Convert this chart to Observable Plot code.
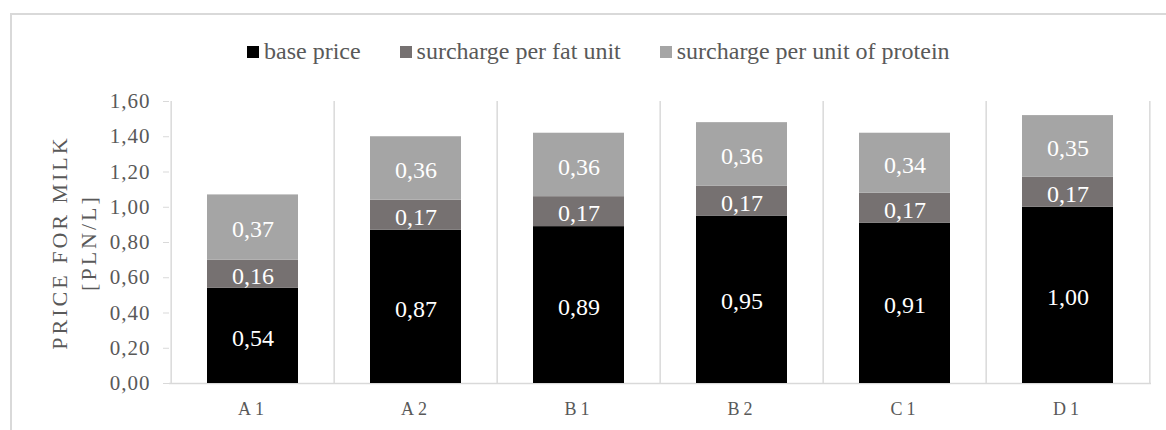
<!DOCTYPE html>
<html>
<head>
<meta charset="utf-8">
<script src="https://cdn.jsdelivr.net/npm/d3@7"></script>
<script src="https://cdn.jsdelivr.net/npm/@observablehq/plot@0.6"></script>
<style>
  html, body { margin: 0; padding: 0; background: #fff; }
  #wrap { position: relative; width: 1166px; height: 430px; overflow: hidden; font-family: "Liberation Serif", "Times New Roman", Tinos, "DejaVu Serif", serif; }
  #frame { position: absolute; left: 10px; top: 13px; width: 1300px; height: 600px; border: 2px solid #D9D9D9; box-sizing: border-box; }
  #legend { position: relative; height: 80px; }
  #legend .items { position: absolute; left: 247px; top: 37px; height: 28px; display: flex; align-items: center; gap: 39px; color: #595959; font-size: 24px; white-space: nowrap; }
  #legend .item { display: flex; align-items: center; }
  #legend .sw { width: 12px; height: 12px; margin-right: 5px; margin-top: 2px; }
  #chart { position: relative; }
  #chart svg, #chart svg text { font-family: "Liberation Serif", "Times New Roman", Tinos, "DejaVu Serif", serif; }
</style>
</head>
<body>
<div id="wrap">
  <div id="frame"></div>
  <div id="legend"></div>
  <div id="chart"></div>
</div>
<script>
const categories = ["A1", "A2", "B1", "B2", "C1", "D1"];
const basePrice = [0.54, 0.87, 0.89, 0.95, 0.91, 1.00];
const fatSurcharge = [0.16, 0.17, 0.17, 0.17, 0.17, 0.17];
const proteinSurcharge = [0.37, 0.36, 0.36, 0.36, 0.34, 0.35];
const seriesNames = ["base price", "surcharge per fat unit", "surcharge per unit of protein"];
const seriesColors = ["#000000", "#767171", "#A5A5A5"];
const yTicks = [0, 0.2, 0.4, 0.6, 0.8, 1.0, 1.2, 1.4, 1.6];
const yTitle = "PRICE FOR MILK\n[PLN/L]";

const seriesValues = [basePrice, fatSurcharge, proteinSurcharge];
const data = [];
categories.forEach((c, i) => {
  seriesNames.forEach((s, j) => {
    data.push({category: c, series: s, value: seriesValues[j][i]});
  });
});

const fmt = d => d.toFixed(2).replace(".", ",");
const serif = '"Liberation Serif", "Times New Roman", Tinos, "DejaVu Serif", serif';

// legend
const items = document.createElement("div");
items.className = "items";
seriesNames.forEach((s, j) => {
  const it = document.createElement("div");
  it.className = "item";
  const sw = document.createElement("span");
  sw.className = "sw";
  sw.style.background = seriesColors[j];
  const tx = document.createElement("span");
  tx.textContent = s;
  it.appendChild(sw); it.appendChild(tx);
  items.appendChild(it);
});
document.getElementById("legend").appendChild(items);

const width = 1166, height = 350;
const marginLeft = 169, marginRight = 15, marginTop = 21, marginBottom = 47;
const step = (width - marginLeft - marginRight) / categories.length;
const barInset = 36;
const grid = "#D9D9D9";

const chart = Plot.plot({
  width, height, marginLeft, marginRight, marginTop, marginBottom,
  style: {fontFamily: serif, background: "transparent", color: "#595959"},
  x: {domain: categories, padding: 0, label: null, axis: null},
  y: {domain: [0, 1.6], label: null, axis: null},
  color: {domain: seriesNames, range: seriesColors},
  marks: [
    Plot.ruleX(categories, {x: d => d, y1: 0, y2: 1.6, dx: -step / 2, stroke: grid, strokeWidth: 1.5}),
    Plot.ruleX(categories.slice(-1), {x: d => d, y1: 0, y2: 1.6, dx: step / 2, stroke: grid, strokeWidth: 1.5}),
    Plot.ruleY([0], {stroke: grid, strokeWidth: 1.5}),
    Plot.axisY({ticks: yTicks, tickFormat: fmt, tickSize: 6, tickPadding: 13, stroke: grid, fill: "#595959", fontSize: 21, label: null}),
    Plot.axisX({tickSize: 0, tickPadding: 19, fontSize: 18, fill: "#595959", label: null}),
    Plot.barY(data, {x: "category", y: "value", fill: "series", insetLeft: barInset, insetRight: barInset}),
    Plot.text(data, Plot.stackY({x: "category", y: "value", z: "series", text: d => fmt(d.value), fill: "white", fontSize: 24, dy: 2})),
    Plot.text([yTitle], {frameAnchor: "left", text: d => d, rotate: -90, dx: -97, textAnchor: "middle", fontSize: 22, lineHeight: 1.3, fill: "#595959"})
  ]
});
document.getElementById("chart").appendChild(chart);

// letter spacing, as in the reference
chart.querySelectorAll("text").forEach(t => {
  const s = t.textContent;
  if (s.includes("PRICE")) t.style.letterSpacing = "3px";
  else if (/^\d,\d\d$/.test(s) && t.getAttribute("fill") !== "white" && !t.closest('[fill="white"]')) t.style.letterSpacing = "1px";
  else if (/^[A-D]\d$/.test(s)) t.style.letterSpacing = "4px";
});
</script>
</body>
</html>
